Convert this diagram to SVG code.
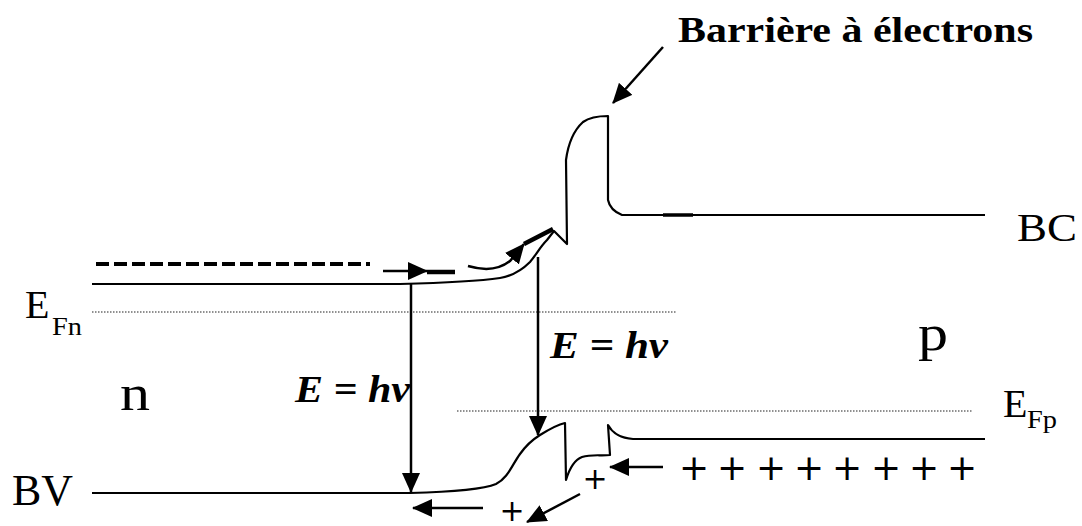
<svg xmlns="http://www.w3.org/2000/svg" width="1082" height="526" viewBox="0 0 1082 526">
<style>
.band{fill:none;stroke:#000;stroke-width:2.2;stroke-linejoin:round}
.dot{fill:none;stroke:#222;stroke-width:1.2;stroke-dasharray:1.5 1.5}
.arr{fill:none;stroke:#000;stroke-width:2.5;marker-end:url(#ah)}
.bar{fill:none;stroke:#000;stroke-width:4.5}
.t{font-family:"Liberation Serif","Times New Roman",serif;fill:#000}
.b{font-weight:bold}
.bi{font-weight:bold;font-style:italic}
.pl{font-family:"DejaVu Sans","Liberation Sans",sans-serif;fill:#000;text-anchor:middle}
</style>
<defs>
<marker id="ah" viewBox="0 0 20 18" refX="19" refY="9" markerWidth="20" markerHeight="18" markerUnits="userSpaceOnUse" orient="auto">
<path d="M0,0 L20,9 L0,18 Z" fill="#000"/>
</marker>
</defs>

<g id="bands">
<path id="BC-band" class="band" d="M92,284 L400,284 C440,283 480,281 500,278 C512,276 522,270 530,262 C536,255 540,247 547,240 L554,231 L567,244 L566,160 C568,145 572,132 583,122 C590,117 600,116 608,116 L608,200 C609,205 612,211 622,215 L985,215"/>
<path id="BV-band" class="band" d="M92,493 L410,493 C450,492 482,490 496,484 C508,478 512,465 520,454 C527,444 532,440 540,435 C548,430 556,425 565,423 L566,480 C569,470 574,460 582,457 C592,454 600,456 610,455 L608,425 C612,432 618,438 633,439 L985,439"/>
<line class="dot" x1="92" y1="312" x2="676" y2="312"/>
<line class="dot" x1="457" y1="411" x2="972" y2="411"/>
</g>

<g id="electrons">
<line x1="96" y1="264" x2="370" y2="264" stroke="#000" stroke-width="4" stroke-dasharray="13 5"/>
<line class="bar" x1="427" y1="272" x2="455" y2="272"/>
<line class="bar" x1="524" y1="244" x2="553" y2="229"/>
<line x1="663" y1="215" x2="693" y2="215" stroke="#000" stroke-width="3.5"/>
</g>

<g id="connectors">
<line class="arr" x1="383" y1="271" x2="427" y2="271"/>
<path class="arr" d="M468,266 C485,271 500,269 510,261 L524,244"/>
<line class="arr" x1="411" y1="284" x2="411" y2="492"/>
<line class="arr" x1="538" y1="257" x2="538" y2="435"/>
<line class="arr" x1="663" y1="47" x2="613" y2="103"/>
<line class="arr" x1="663" y1="467" x2="610" y2="467"/>
<line class="arr" x1="483" y1="508" x2="413" y2="508"/>
<line class="arr" x1="580" y1="494" x2="527" y2="522"/>
</g>

<g id="labels">
<text class="t b" x="678" y="42" font-size="36" textLength="355" lengthAdjust="spacingAndGlyphs">Barrière à électrons</text>
<text class="t" x="1017" y="241" font-size="41" textLength="60" lengthAdjust="spacingAndGlyphs">BC</text>
<text class="t" x="12" y="505" font-size="44" textLength="61" lengthAdjust="spacingAndGlyphs">BV</text>
<text class="t" x="25" y="318" font-size="40">E</text>
<text class="t" x="52" y="335" font-size="26" textLength="30" lengthAdjust="spacingAndGlyphs">Fn</text>
<text class="t" x="1003" y="417" font-size="40">E</text>
<text class="t" x="1027" y="428" font-size="26" textLength="30" lengthAdjust="spacingAndGlyphs">Fp</text>
<text class="t" x="120" y="410" font-size="50" textLength="30" lengthAdjust="spacingAndGlyphs">n</text>
<text class="t" x="918" y="350" font-size="50" textLength="30" lengthAdjust="spacingAndGlyphs">p</text>
<text class="t bi" x="295" y="402" font-size="38" textLength="115" lengthAdjust="spacingAndGlyphs">E = hv</text>
<text class="t bi" x="550" y="358" font-size="38" textLength="118" lengthAdjust="spacingAndGlyphs">E = hv</text>
<text class="pl" x="694 732 771 809 847 886 924 962" y="480" font-size="36">++++++++</text>
<text class="pl" x="595" y="489" font-size="30">+</text>
<text class="pl" x="512" y="521" font-size="30">+</text>
</g>
</svg>
